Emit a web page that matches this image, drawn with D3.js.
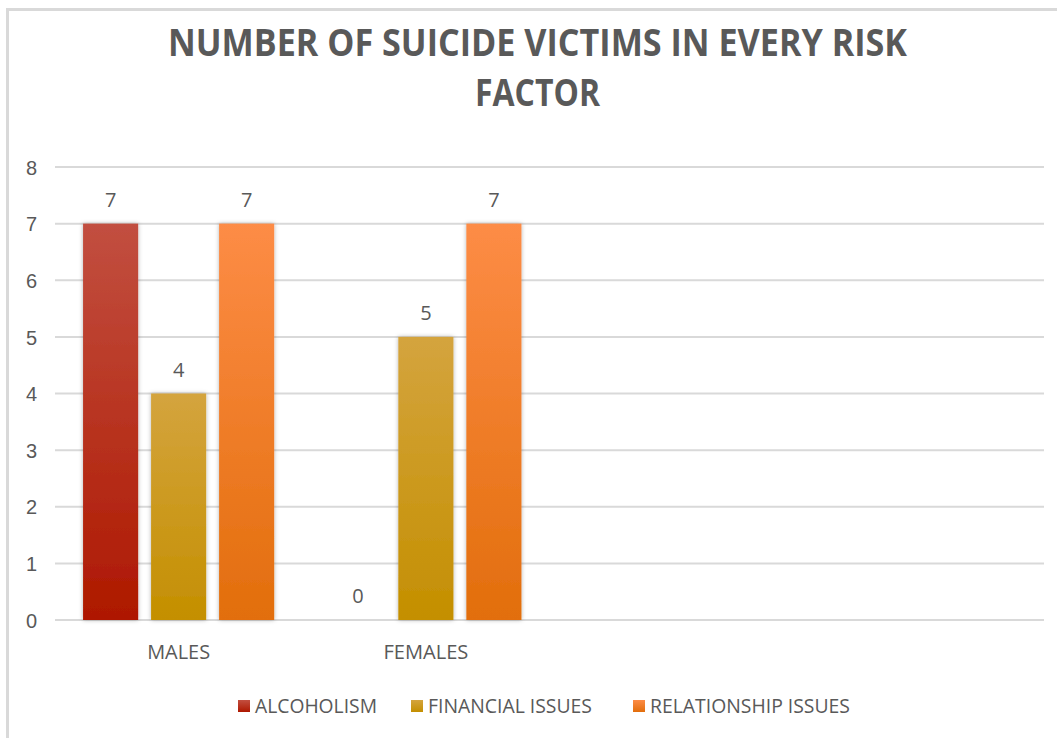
<!DOCTYPE html>
<html>
<head>
<meta charset="utf-8">
<script src="https://cdn.jsdelivr.net/npm/d3@7"></script>
<style>
  body { margin: 0; background: #fff; }
  svg { display: block; font-family: "Open Sans", "Liberation Sans", sans-serif; }
</style>
</head>
<body>
<div id="chart"></div>
<script>
// chart data
var categories = ["MALES", "FEMALES", "", ""];
var seriesNames = ["ALCOHOLISM", "FINANCIAL ISSUES", "RELATIONSHIP ISSUES"];
var alcoholism = [7, 0, null, null];
var financial = [4, 5, null, null];
var relationship = [7, 7, null, null];
var yTicks = [0, 1, 2, 3, 4, 5, 6, 7, 8];
var titleLines = ["NUMBER OF SUICIDE VICTIMS IN EVERY RISK", "FACTOR"];

var seriesValues = [alcoholism, financial, relationship];
var colorsTop = ["#c24f40", "#d4a43e", "#fd8c46"];
var colorsBottom = ["#ae1800", "#c48f00", "#e26e0c"];

var svgWidth = 1057;
var svgHeight = 738;
var margin = { top: 167, right: 13, bottom: 118, left: 55 };
var width = svgWidth - margin.left - margin.right;
var height = svgHeight - margin.top - margin.bottom;
var textColor = "#595959";

var svg = d3.select("#chart").append("svg")
  .attr("width", svgWidth)
  .attr("height", svgHeight);

var defs = svg.append("defs");
seriesNames.forEach(function (s, i) {
  var g = defs.append("linearGradient")
    .attr("id", "grad" + i)
    .attr("x1", 0).attr("y1", 0).attr("x2", 0).attr("y2", 1);
  g.append("stop").attr("offset", "0%").attr("stop-color", colorsTop[i]);
  g.append("stop").attr("offset", "100%").attr("stop-color", colorsBottom[i]);
});
var shadow = defs.append("filter").attr("id", "shadow")
  .attr("x", "-20%").attr("y", "-5%").attr("width", "140%").attr("height", "110%");
shadow.append("feDropShadow")
  .attr("dx", 0).attr("dy", 0).attr("stdDeviation", 2)
  .attr("flood-color", "#000").attr("flood-opacity", 0.3);

// frame around the chart
svg.append("rect")
  .attr("x", 7.5).attr("y", 9.5)
  .attr("width", svgWidth).attr("height", svgHeight)
  .attr("fill", "none")
  .attr("stroke", "#d9d9d9")
  .attr("stroke-width", 3);

// helper to squeeze a text to a given width (Calibri-like proportions)
function fit(sel, w) {
  sel.attr("textLength", w).attr("lengthAdjust", "spacingAndGlyphs");
}

// title
var titleWidths = [739, 125];
titleLines.forEach(function (t, i) {
  svg.append("text")
    .attr("x", 537.5)
    .attr("y", 56 + i * 50)
    .attr("text-anchor", "middle")
    .attr("fill", textColor)
    .style("font-size", "38px")
    .style("font-weight", "bold")
    .text(t)
    .call(fit, titleWidths[i]);
});

var chartGroup = svg.append("g")
  .attr("transform", `translate(${margin.left}, ${margin.top})`);

var yScale = d3.scaleLinear()
  .domain([0, 8])
  .range([height, 0]);

var x0 = d3.scaleBand()
  .domain(d3.range(categories.length))
  .range([0, width])
  .paddingInner(0.227)
  .paddingOuter(0.1135);

var x1 = d3.scaleBand()
  .domain(d3.range(seriesNames.length))
  .range([0, x0.bandwidth()])
  .paddingInner(0.19);

// gridlines
chartGroup.append("g")
  .selectAll("line")
  .data(yTicks)
  .enter()
  .append("line")
  .attr("x1", 0)
  .attr("x2", width)
  .attr("y1", d => yScale(d))
  .attr("y2", d => yScale(d))
  .attr("stroke", "#d9d9d9")
  .attr("stroke-width", 2);

// y axis labels
var leftAxis = d3.axisLeft(yScale).tickValues(yTicks).tickSize(0).tickPadding(18);
var yAxisG = chartGroup.append("g").call(leftAxis);
yAxisG.select(".domain").remove();
yAxisG.selectAll("text")
  .attr("fill", textColor)
  .style("font-size", "20px")
  .attr("dy", "0.36em");

// bars
var groups = chartGroup.selectAll(".cat")
  .data(categories)
  .enter()
  .append("g")
  .attr("class", "cat")
  .attr("transform", (d, i) => `translate(${x0(i)}, 0)`);

groups.each(function (cat, ci) {
  var g = d3.select(this);
  var pts = seriesNames.map(function (s, si) {
    return { si: si, v: seriesValues[si][ci] };
  }).filter(p => p.v !== null);

  g.selectAll("rect")
    .data(pts.filter(p => p.v > 0))
    .enter()
    .append("rect")
    .attr("x", p => x1(p.si))
    .attr("y", p => yScale(p.v))
    .attr("width", x1.bandwidth())
    .attr("height", p => height - yScale(p.v))
    .attr("fill", p => `url(#grad${p.si})`)
    .attr("filter", "url(#shadow)");

  g.selectAll(".lbl")
    .data(pts)
    .enter()
    .append("text")
    .attr("class", "lbl")
    .attr("x", p => x1(p.si) + x1.bandwidth() / 2)
    .attr("y", p => yScale(p.v) - 17)
    .attr("text-anchor", "middle")
    .attr("fill", textColor)
    .style("font-size", "20px")
    .text(p => p.v);
});

// category labels
var catWidths = [63, 85, 0, 0];
chartGroup.selectAll(".catlbl")
  .data(categories)
  .enter()
  .append("text")
  .attr("class", "catlbl")
  .attr("x", (d, i) => x0(i) + x0.bandwidth() / 2)
  .attr("y", height + 39)
  .attr("text-anchor", "middle")
  .attr("fill", textColor)
  .style("font-size", "20px")
  .text(d => d)
  .each(function (d, i) { if (d) d3.select(this).call(fit, catWidths[i]); });

// legend
var legendX = [238, 411, 633];
var legendTextW = [122, 164, 200];
var legend = svg.append("g");
seriesNames.forEach(function (s, i) {
  legend.append("rect")
    .attr("x", legendX[i])
    .attr("y", 700)
    .attr("width", 12)
    .attr("height", 12)
    .attr("fill", `url(#grad${i})`);
  legend.append("text")
    .attr("x", legendX[i] + 17)
    .attr("y", 713)
    .attr("fill", textColor)
    .style("font-size", "20px")
    .text(s)
    .call(fit, legendTextW[i]);
});
</script>
</body>
</html>
